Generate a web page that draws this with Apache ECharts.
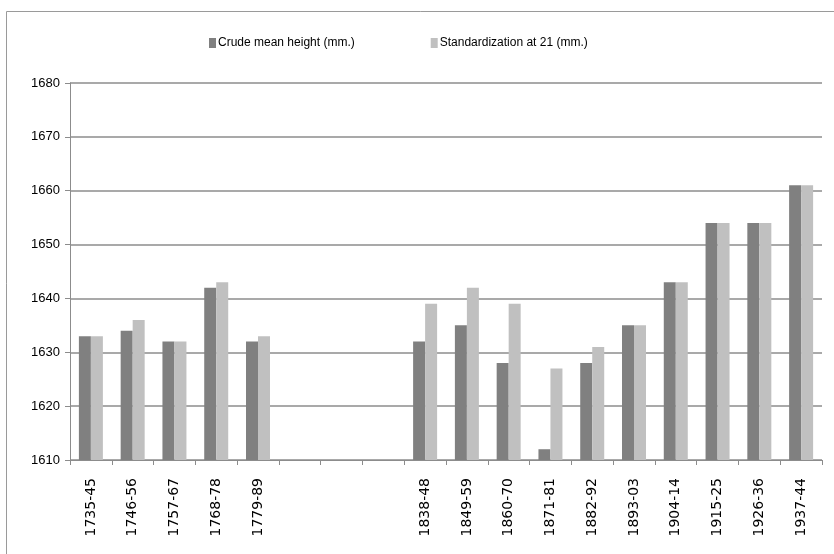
<!DOCTYPE html>
<html>
<head>
<meta charset="utf-8">
<script src="https://cdn.jsdelivr.net/npm/echarts@6/dist/echarts.min.js"></script>
<style>
  html, body { margin: 0; padding: 0; background: #fff; }
  #chart { width: 834px; height: 554px; }
</style>
</head>
<body>
<div id="chart"></div>
<script>
// Birth-cohort periods; the three blank slots mark the gap between 1789 and 1838
const periods = ['1735-45', '1746-56', '1757-67', '1768-78', '1779-89', '', '', '',
  '1838-48', '1849-59', '1860-70', '1871-81', '1882-92', '1893-03', '1904-14',
  '1915-25', '1926-36', '1937-44'];
const crudeMean = [1633, 1634, 1632, 1642, 1632, null, null, null,
  1632, 1635, 1628, 1612, 1628, 1635, 1643, 1654, 1654, 1661];
const standardized = [1633, 1636, 1632, 1643, 1633, null, null, null,
  1639, 1642, 1639, 1627, 1631, 1635, 1643, 1654, 1654, 1661];
const yTicks = { min: 1610, max: 1680, step: 10 };

const chart = echarts.init(document.getElementById('chart'));
const font = '"Liberation Sans", Arial, sans-serif';
chart.setOption({
  animation: false,
  backgroundColor: '#fff',
  graphic: [{
    type: 'rect',
    shape: { x: 6.5, y: 11.5, width: 840, height: 560 },
    style: { fill: 'none', stroke: '#9a9a9a', lineWidth: 1 },
    silent: true
  }],
  legend: {
    top: 32,
    left: 204,
    itemWidth: 7,
    itemHeight: 10,
    itemGap: 76,
    icon: 'rect',
    textStyle: { fontFamily: font, fontSize: 12, color: '#000', padding: [0, 0, 0, -3] },
    data: ['Crude mean height (mm.)', 'Standardization at 21 (mm.)']
  },
  grid: { left: 70, right: 12, top: 83, bottom: 94, containLabel: false },
  xAxis: {
    type: 'category',
    data: periods,
    axisLine: { lineStyle: { color: '#8c8c8c', width: 1 } },
    axisTick: { show: true, length: 5, alignWithLabel: false, lineStyle: { color: '#8c8c8c' } },
    axisLabel: {
      rotate: 90,
      interval: 0,
      margin: 18,
      fontFamily: '"DejaVu Sans", sans-serif',
      fontSize: 14,
      color: '#000'
    }
  },
  yAxis: {
    type: 'value',
    min: yTicks.min,
    max: yTicks.max,
    interval: yTicks.step,
    axisLine: { show: true, lineStyle: { color: '#8c8c8c', width: 1 } },
    axisTick: { show: true, length: 5, lineStyle: { color: '#8c8c8c' } },
    axisLabel: {
      fontFamily: font, fontSize: 13, color: '#000', margin: 10,
      formatter: v => String(v)
    },
    splitLine: { lineStyle: { color: '#8c8c8c', width: 1.5 } }
  },
  series: [
    {
      name: 'Crude mean height (mm.)',
      type: 'bar',
      data: crudeMean,
      barWidth: 12,
      barGap: '0%',
      itemStyle: { color: '#808080' }
    },
    {
      name: 'Standardization at 21 (mm.)',
      type: 'bar',
      data: standardized,
      barWidth: 12,
      barGap: '0%',
      itemStyle: { color: '#c0c0c0' }
    }
  ]
});
</script>
</body>
</html>
